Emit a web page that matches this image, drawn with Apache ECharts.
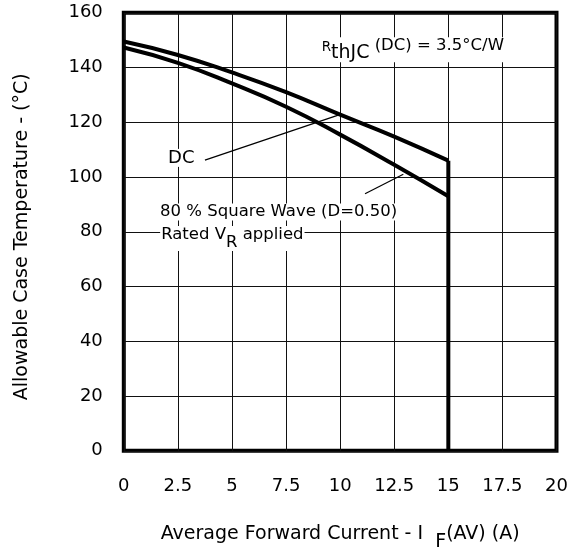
<!DOCTYPE html>
<html><head><meta charset="utf-8">
<script src="https://cdn.jsdelivr.net/npm/echarts@6/dist/echarts.min.js"></script>
<style>html,body{margin:0;padding:0;background:#fff}#c{width:570px;height:548px}</style>
</head><body><div id="c"></div>
<script>
// ---- data ----
const xCurrent = [0, 2.5, 5, 7.5, 10, 12.5, 15];
const dcTemp = [149.5, 144.6, 138.2, 131.0, 122.8, 114.8, 106.0];
const squareTemp = [147.3, 141.7, 134.2, 125.7, 115.5, 104.5, 93.0];
const dropX = 15;
const dropTemp = [106.0, 0];
const dcLeader = [[3.75, 106.2], [10.05, 123.0]];
const squareLeader = [[11.15, 93.9], [12.92, 101.0]];
const xAxisRange = [0, 20, 2.5];
const yAxisRange = [0, 160, 20];
const xTitle = ['Average Forward Current - I  ', 'F', '(AV) (A)'];
const yTitle = 'Allowable Case Temperature - (°C)';
// annotation anchors [x, y(center of text line)]
const labelDC = {text: 'DC', at: [2.0, 107.0]};
const labelSquare = {text: '80 % Square Wave (D=0.50)', at: [1.63, 87.2]};
const labelRated = {parts: ['Rated V', 'R', ' applied'], at: [1.68, 79.1]};
const labelRth = {parts: ['R', 'thJC', ' (DC) = 3.5°C/W'], at: [9.1, 148.1]};

const FONT = 'DejaVu Sans';
const pairs = (xs, ys) => xs.map((x, i) => [x, ys[i]]);

const chart = echarts.init(document.getElementById('c'), null, {renderer: 'canvas'});
chart.setOption({
  animation: false,
  backgroundColor: '#fff',
  grid: {left: 123.8, right: 13.5, top: 12.8, bottom: 97.2, show: true,
         containLabel: false, outerBoundsMode: 'none',
         borderColor: '#000', borderWidth: 4, backgroundColor: 'transparent'},
  xAxis: {
    type: 'value', min: xAxisRange[0], max: xAxisRange[1], interval: xAxisRange[2],
    axisLine: {show: false}, axisTick: {show: false},
    splitLine: {show: true, lineStyle: {color: '#111', width: 1}},
    axisLabel: {color: '#000', fontFamily: FONT, fontSize: 18, margin: 27},
    name: '{a|' + xTitle[0] + '}{b|' + xTitle[1] + '}{a|' + xTitle[2] + '}',
    nameLocation: 'middle', nameGap: 74,
    nameTextStyle: {color: '#000', fontFamily: FONT, fontSize: 19,
      rich: {a: {color: '#000', fontFamily: FONT, fontSize: 19, verticalAlign: 'top'},
             b: {color: '#000', fontFamily: FONT, fontSize: 19, verticalAlign: 'top', padding: [8, 0, 0, 0]}}}
  },
  yAxis: {
    type: 'value', min: yAxisRange[0], max: yAxisRange[1], interval: yAxisRange[2],
    axisLine: {show: false}, axisTick: {show: false},
    splitLine: {show: true, lineStyle: {color: '#111', width: 1}},
    axisLabel: {color: '#000', fontFamily: FONT, fontSize: 18, margin: 21, padding: [10, 0, 0, 0]},
    name: yTitle, nameLocation: 'middle', nameGap: 92,
    nameTextStyle: {color: '#000', fontFamily: FONT, fontSize: 19, padding: [0, 10, 0, 0]}
  },
  series: [
    {type: 'line', data: pairs(xCurrent, dcTemp), smooth: 0.5, symbol: 'none',
     lineStyle: {color: '#000', width: 4}, z: 3},
    {type: 'line', data: pairs(xCurrent, squareTemp), smooth: 0.5, symbol: 'none',
     lineStyle: {color: '#000', width: 4}, z: 3},
    {type: 'line', data: dropTemp.map(t => [dropX, t]), symbol: 'none',
     lineStyle: {color: '#000', width: 4}, z: 3},
    {type: 'line', data: dcLeader, symbol: 'none', lineStyle: {color: '#000', width: 1.2}, z: 3},
    {type: 'line', data: squareLeader, symbol: 'none', lineStyle: {color: '#000', width: 1.2}, z: 3}
  ]
});

function px(p) { return chart.convertToPixel({gridIndex: 0}, p); }
const AF = 16.5;
function plainText(lbl, fs) {
  const p = px(lbl.at);
  return {type: 'text', x: p[0], y: p[1], z: 10,
    style: {text: lbl.text, fontFamily: FONT, fontSize: fs || AF, fill: '#000',
      align: 'left', verticalAlign: 'middle', backgroundColor: '#fff', padding: [0, 1, 0, 1]}};
}
function richText(lbl, styles) {
  const p = px(lbl.at);
  const names = ['a', 'b', 'c'];
  const text = lbl.parts.map((t, i) => '{' + names[i] + '|' + t + '}').join('');
  const rich = {};
  names.forEach((n, i) => { rich[n] = Object.assign({fontFamily: FONT, fontSize: AF, fill: '#000', verticalAlign: 'top'}, styles[i]); });
  return {type: 'text', x: p[0], y: p[1] - AF / 2, z: 10,
    style: {text: text, rich: rich, fontFamily: FONT, fontSize: AF, fill: '#000',
      align: 'left', verticalAlign: 'top', backgroundColor: '#fff', padding: [0, 1, 0, 1]}};
}
chart.setOption({graphic: [
  plainText(labelDC, 18),
  plainText(labelSquare),
  richText(labelRated, [{}, {padding: [8, 0, 0, 0]}, {}]),
  richText(labelRth, [{fontSize: 13.5, padding: [3, 0, 0, 0]}, {fontSize: 19, padding: [6, 0, 0, 0]}, {}])
]});
</script>
</body></html>
